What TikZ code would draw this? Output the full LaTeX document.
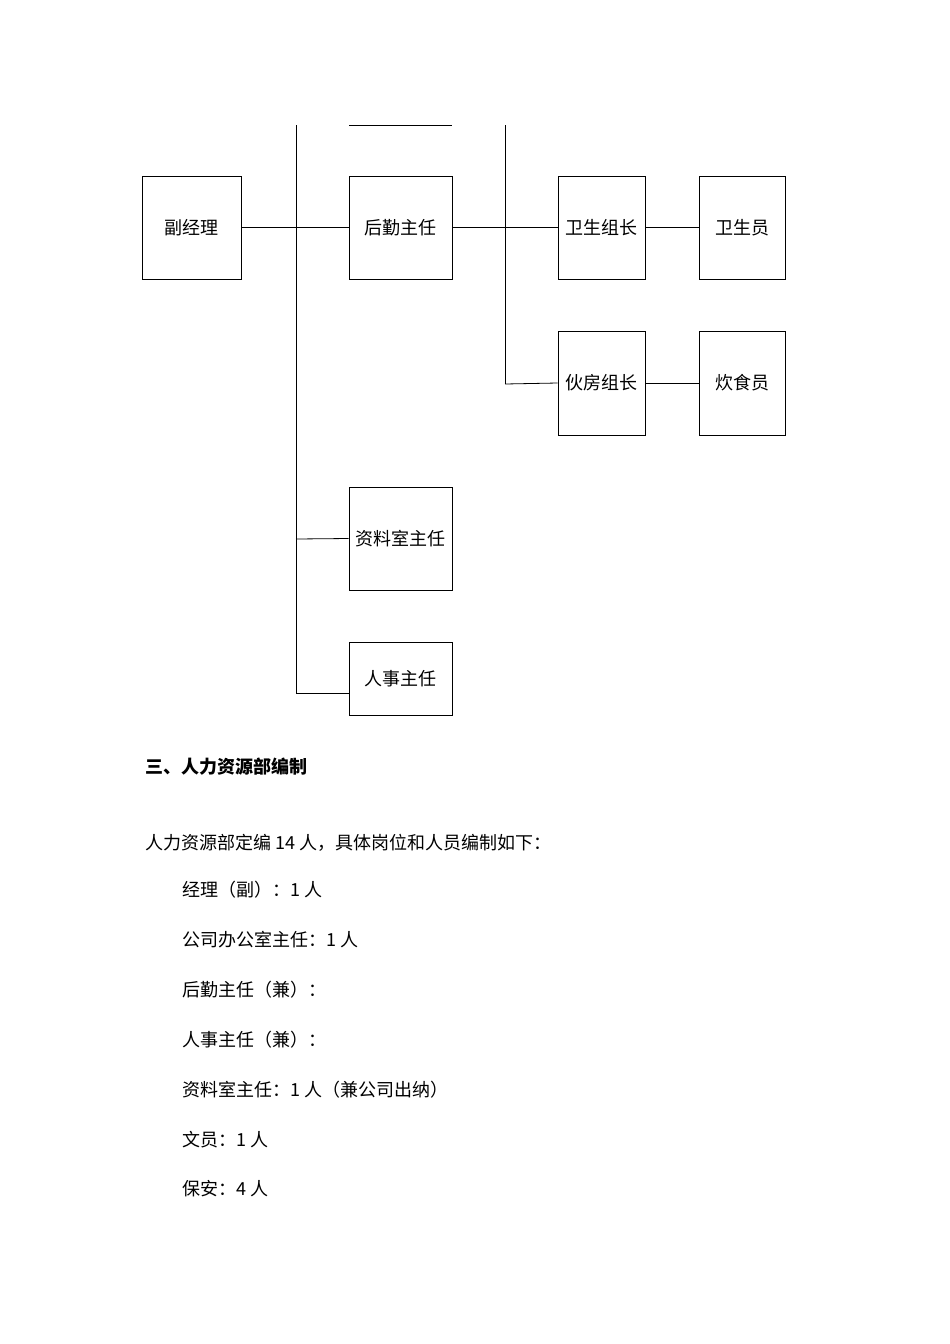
\documentclass[tikz,border=0pt]{standalone}
\usepackage{fontspec}
\setmainfont{Noto Sans CJK SC}
\begin{document}
\begin{tikzpicture}[x=1pt,y=-1pt,
  box/.style={draw,line width=0.8pt,inner sep=0pt,font=\fontsize{18}{20}\selectfont},
  ln/.style={line width=0.8pt},
  txt/.style={anchor=west,inner sep=0pt,font=\fontsize{18}{20}\selectfont}]
\useasboundingbox (0,0) rectangle (950,1344);
\node[box,minimum width=99pt,minimum height=103pt] (fjl) at (191.5,227.5) {副经理};
\node[box,minimum width=103pt,minimum height=103pt] (hq) at (400.5,227.5) {后勤主任};
\node[box,minimum width=87pt,minimum height=103pt] (wszz) at (601.5,227.5) {卫生组长};
\node[box,minimum width=86pt,minimum height=103pt] (wsy) at (742,227.5) {卫生员};
\node[box,minimum width=87pt,minimum height=104pt] (hfzz) at (601.5,383) {伙房组长};
\node[box,minimum width=86pt,minimum height=104pt] (csy) at (742,383) {炊食员};
\node[box,minimum width=103pt,minimum height=103pt] (zls) at (400.5,538.5) {资料室主任};
\node[box,minimum width=103pt,minimum height=73pt] (rs) at (400.5,678.5) {人事主任};
\coordinate (t1) at (296,125); \coordinate (b1) at (296,693);
\coordinate (t2) at (505,125); \coordinate (b2) at (505,384);
\coordinate (p1) at (349,125); \coordinate (p2) at (452,125);
\draw[ln] (t1)--(b1); \draw[ln] (t2)--(b2); \draw[ln] (p1)--(p2);
\draw[ln] (fjl.east)--(hq.west);
\draw[ln] (hq.east)--(wszz.west);
\draw[ln] (wszz.east)--(wsy.west);
\draw[ln] (b2)--(hfzz.west);
\draw[ln] (hfzz.east)--(csy.west);
\draw[ln] (296,539)--(zls.west);
\draw[ln] (b1)--(349,693);
\node[txt,font=\fontsize{18}{20}\selectfont\bfseries] (h) at (145,767) {三、人力资源部编制};
\node[txt] (l0) at (145,843) {人力资源部定编 14 人，具体岗位和人员编制如下：};
\node[txt] (l1) at (182,890) {经理（副）：1 人};
\node[txt] (l2) at (182,940) {公司办公室主任：1 人};
\node[txt] (l3) at (182,990) {后勤主任（兼）：};
\node[txt] (l4) at (182,1040) {人事主任（兼）：};
\node[txt] (l5) at (182,1090) {资料室主任：1 人（兼公司出纳）};
\node[txt] (l6) at (182,1140) {文员：1 人};
\node[txt] (l7) at (182,1189) {保安：4 人};
\end{tikzpicture}
\end{document}
